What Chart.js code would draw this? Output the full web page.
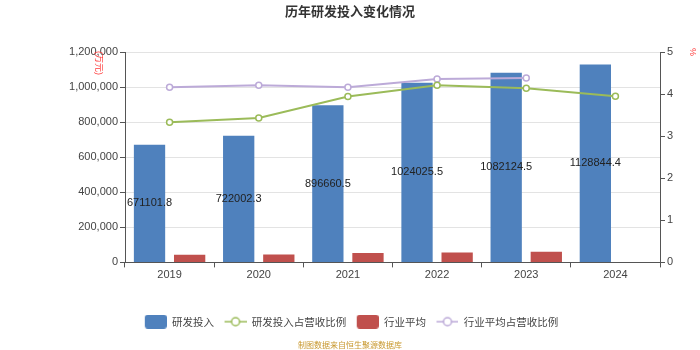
<!DOCTYPE html>
<html>
<head>
<meta charset="utf-8">
<script src="https://cdn.jsdelivr.net/npm/chart.js@4.4.0/dist/chart.umd.min.js"></script>
<style>
    html, body { margin: 0; padding: 0; background: #fff; }
</style>
</head>
<body>
<canvas id="rdChart" width="700" height="350"></canvas>
<script>
// data
const years = ['2019', '2020', '2021', '2022', '2023', '2024'];
const rd_invest = [671101.8, 722002.3, 896660.5, 1024025.5, 1082124.5, 1128844.4];
const rd_ratio = [3.33, 3.43, 3.94, 4.21, 4.14, 3.95];
const industry_avg = [44000, 45000, 53000, 57000, 61000, null];
const industry_ratio = [4.16, 4.21, 4.16, 4.36, 4.38, null];

const blue = '#4f81bd';
const red = '#c0504d';
const green = '#9bbb59';
const purple = '#bcaad8';
const baseFont = "'Liberation Sans', 'Noto Sans CJK SC', sans-serif";

// legend icons (transparent gap on the left acts as item spacing)
function makeBox(color) {
    const c = document.createElement('canvas');
    c.width = 25; c.height = 14;
    const x = c.getContext('2d');
    x.fillStyle = color;
    x.beginPath();
    x.roundRect(3, 0, 22, 14, 3);
    x.fill();
    return c;
}
function makeLineIcon(color) {
    const c = document.createElement('canvas');
    c.width = 25; c.height = 12;
    const x = c.getContext('2d');
    x.strokeStyle = color;
    x.lineWidth = 1.5;
    x.beginPath();
    x.moveTo(3, 6); x.lineTo(25, 6);
    x.stroke();
    x.fillStyle = '#fff';
    x.beginPath();
    x.arc(14, 6, 4, 0, Math.PI * 2);
    x.fill();
    x.stroke();
    return c;
}
const legendIcons = [makeBox(blue), makeLineIcon(green), makeBox(red), makeLineIcon(purple)];

// value labels in the middle of the blue bars
const barLabels = {
    id: 'barLabels',
    afterDatasetsDraw(chart) {
        const ctx = chart.ctx;
        const meta = chart.getDatasetMeta(0);
        ctx.save();
        ctx.font = '11px ' + baseFont;
        ctx.fillStyle = '#222';
        ctx.textAlign = 'center';
        ctx.textBaseline = 'middle';
        meta.data.forEach((bar, i) => {
            ctx.fillText(String(rd_invest[i]), bar.x, (bar.y + bar.base) / 2);
        });
        ctx.restore();
    }
};

// axis names
const axisNames = {
    id: 'axisNames',
    afterDraw(chart) {
        const ctx = chart.ctx;
        const area = chart.chartArea;
        ctx.save();
        ctx.fillStyle = '#ff3b3b';
        ctx.font = '9px ' + baseFont;
        ctx.textAlign = 'center';
        ctx.textBaseline = 'middle';
        ctx.translate(area.left - 27, area.top + 11);
        ctx.rotate(Math.PI / 2);
        ctx.fillText('(万元)', 0, 0);
        ctx.restore();
        ctx.save();
        ctx.fillStyle = '#ff3b3b';
        ctx.font = '9px ' + baseFont;
        ctx.textAlign = 'center';
        ctx.textBaseline = 'middle';
        ctx.translate(area.right + 32, area.top);
        ctx.rotate(Math.PI / 2);
        ctx.fillText('%', 0, 0);
        ctx.restore();
    }
};

const ctx = document.getElementById('rdChart').getContext('2d');
const rdChart = new Chart(ctx, {
    type: 'bar',
    data: {
        labels: years,
        datasets: [
            {
                type: 'bar',
                label: '研发投入',
                data: rd_invest,
                backgroundColor: blue,
                yAxisID: 'y',
                order: 1
            },
            {
                type: 'line',
                label: '研发投入占营收比例',
                data: rd_ratio,
                borderColor: green,
                backgroundColor: '#fff',
                borderWidth: 2,
                pointRadius: 3,
                pointBorderWidth: 1.5,
                pointBackgroundColor: '#fff',
                pointBorderColor: green,
                tension: 0,
                yAxisID: 'y1',
                order: 0
            },
            {
                type: 'bar',
                label: '行业平均',
                data: industry_avg,
                backgroundColor: red,
                yAxisID: 'y',
                order: 1
            },
            {
                type: 'line',
                label: '行业平均占营收比例',
                data: industry_ratio,
                borderColor: purple,
                backgroundColor: '#fff',
                borderWidth: 2,
                pointRadius: 3,
                pointBorderWidth: 1.5,
                pointBackgroundColor: '#fff',
                pointBorderColor: purple,
                tension: 0,
                spanGaps: false,
                yAxisID: 'y1',
                order: 0
            }
        ]
    },
    options: {
        responsive: false,
        animation: false,
        devicePixelRatio: 1,
        categoryPercentage: 0.9,
        barPercentage: 0.78,
        layout: {
            padding: 0
        },
        plugins: {
            title: {
                display: true,
                text: '历年研发投入变化情况',
                color: '#333',
                font: { size: 13, weight: 'bold', family: "'Noto Sans CJK SC', sans-serif" },
                padding: { top: 3, bottom: 33.4 }
            },
            subtitle: {
                display: true,
                position: 'bottom',
                text: '制图数据来自恒生聚源数据库',
                color: '#c8982e',
                font: { size: 8, family: "'Noto Sans CJK SC', sans-serif" },
                padding: { top: 3.5, bottom: 0 }
            },
            legend: {
                display: true,
                position: 'bottom',
                labels: {
                    color: '#444',
                    font: { size: 10.5, family: "'Noto Sans CJK SC', sans-serif" },
                    usePointStyle: true,
                    pointStyleWidth: 25,
                    padding: 7.5,
                    generateLabels(chart) {
                        const items = Chart.defaults.plugins.legend.labels.generateLabels(chart);
                        items.sort((a, b) => a.datasetIndex - b.datasetIndex);
                        items.forEach(item => {
                            item.pointStyle = legendIcons[item.datasetIndex];
                        });
                        return items;
                    }
                }
            },
            tooltip: { enabled: false }
        },
        scales: {
            x: {
                afterFit(scale) { scale.height = 46.5; },
                grid: {
                    offset: true,
                    drawOnChartArea: false,
                    tickLength: 5,
                    tickColor: '#555'
                },
                border: { color: '#555' },
                ticks: {
                    color: '#444',
                    padding: 1,
                    font: { size: 11, family: baseFont }
                }
            },
            y: {
                position: 'left',
                min: 0,
                max: 1200000,
                afterFit(scale) { scale.width = 125; },
                grid: {
                    color: '#e3e3e3',
                    tickLength: 5,
                    tickColor: '#555'
                },
                border: { color: '#555' },
                ticks: {
                    stepSize: 200000,
                    color: '#444',
                    padding: 2,
                    font: { size: 11, family: baseFont },
                    callback: (v) => v.toLocaleString('en-US')
                }
            },
            y1: {
                position: 'right',
                min: 0,
                max: 5,
                afterFit(scale) { scale.width = 40; },
                grid: {
                    drawOnChartArea: false,
                    tickLength: 5,
                    tickColor: '#555'
                },
                border: { color: '#555' },
                ticks: {
                    stepSize: 1,
                    color: '#444',
                    padding: 2,
                    font: { size: 11, family: baseFont }
                }
            }
        }
    },
    plugins: [barLabels, axisNames]
});
</script>
</body>
</html>
